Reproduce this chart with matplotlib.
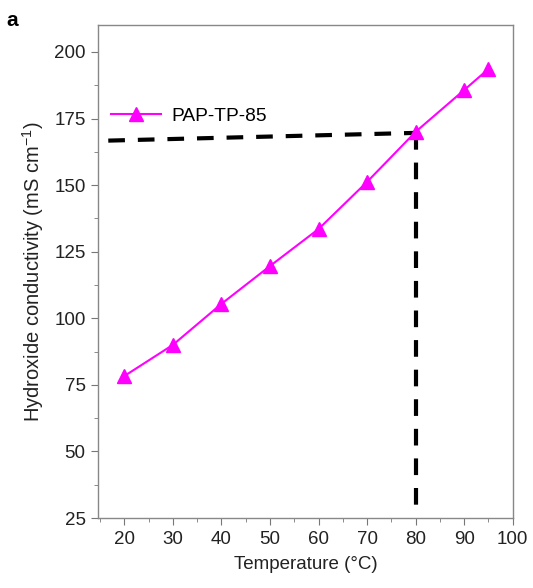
import matplotlib
matplotlib.use("Agg")
import matplotlib.pyplot as plt
from matplotlib.ticker import MultipleLocator

plt.rcParams['font.family'] = ['Liberation Sans', 'DejaVu Sans']
plt.rcParams['mathtext.fontset'] = 'custom'
plt.rcParams['mathtext.rm'] = 'Liberation Sans'

temperature = [20, 30, 40, 50, 60, 70, 80, 90, 95]
conductivity = [78.3, 90.0, 105.4, 119.6, 133.5, 151.2, 170.0, 185.7, 193.6]
series_label = "PAP-TP-85"

guide_h_x = [16.7, 80]
guide_h_y = [166.7, 169.6]
guide_v_x = [80, 80]
guide_v_y = [169.6, 28.8]

x_ticks = [20, 30, 40, 50, 60, 70, 80, 90, 100]
y_ticks = [25, 50, 75, 100, 125, 150, 175, 200]

fig = plt.figure(figsize=(5.33, 5.88), dpi=100)
ax = fig.add_axes([0.184, 0.119, 0.778, 0.838])

ax.plot(guide_h_x, guide_h_y, color='black', lw=3, dashes=(4, 3.1), zorder=2)
ax.plot(guide_v_x, guide_v_y, color='black', lw=3, dashes=(4, 3.1), zorder=2)
ax.plot(temperature, conductivity, color='#ff00ff', lw=1.5, marker='^', ms=10,
        label=series_label, zorder=3)

ax.set_xlim(14.6, 100)
ax.set_ylim(25, 210)
ax.set_xticks(x_ticks)
ax.set_yticks(y_ticks)
ax.xaxis.set_minor_locator(MultipleLocator(5))
ax.yaxis.set_minor_locator(MultipleLocator(12.5))
ax.tick_params(which='both', direction='out', color='#777777', labelsize=13.5, pad=4)
ax.tick_params(which='major', length=5)
ax.tick_params(which='minor', length=3)
for s in ax.spines.values():
    s.set_color('#888888')
    s.set_linewidth(1.0)

ax.set_xlabel("Temperature (°C)", fontsize=13.5, color='#222222', labelpad=6)
ax.set_ylabel("Hydroxide conductivity (mS cm$^{-1}$)", fontsize=14.5, color='#222222', labelpad=6)
for t in ax.get_xticklabels() + ax.get_yticklabels():
    t.set_color('#222222')

ax.legend(loc='upper left', bbox_to_anchor=(0.0, 0.86), frameon=False, fontsize=13.8,
          handlelength=2.6, handletextpad=0.5, borderaxespad=0.3)

fig.text(0.012, 0.965, "a", fontsize=15, fontweight='bold', ha='left', va='center')

fig.savefig("out.png", dpi=100)
